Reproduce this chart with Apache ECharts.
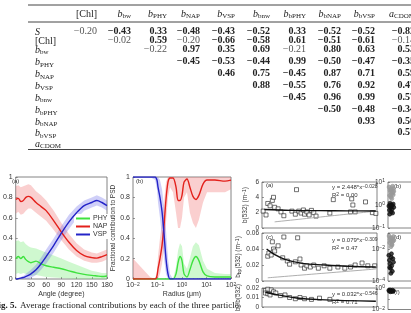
<!DOCTYPE html>
<html>
<head>
<meta charset="utf-8">
<script src="https://cdn.jsdelivr.net/npm/echarts@6/dist/echarts.min.js"></script>
<style>
  html, body { margin: 0; padding: 0; background: #fff; }
  #main { width: 411px; height: 313px; }
</style>
</head>
<body>
<div id="main"></div>
<script>
// ---- table (correlation coefficients) ----
const colLabels = ['[Chl]', 'b_bw', 'b_PHY', 'b_NAP', 'b_VSP', 'b_bnw', 'b_bPHY', 'b_bNAP', 'b_bVSP', 'a_CDOM'];
const rowLabels = ['S', '[Chl]', 'b_bw', 'b_PHY', 'b_NAP', 'b_VSP', 'b_bnw', 'b_bPHY', 'b_bNAP', 'b_bVSP', 'a_CDOM'];
// row i starts at column i (upper triangle)
const corrRows = [
  [-0.20, -0.43, 0.33, -0.48, -0.43, -0.52, 0.33, -0.52, -0.52, -0.82],
  [-0.02, 0.59, -0.20, -0.66, -0.58, 0.61, -0.51, -0.61, -0.14],
  [-0.22, 0.97, 0.35, 0.69, -0.21, 0.80, 0.63, 0.53],
  [-0.45, -0.53, -0.44, 0.99, -0.50, -0.47, -0.35],
  [0.46, 0.75, -0.45, 0.87, 0.71, 0.59],
  [0.88, -0.55, 0.76, 0.92, 0.47],
  [-0.45, 0.96, 0.99, 0.57],
  [-0.50, -0.48, -0.34],
  [0.93, 0.56],
  [0.57],
  []
];
const notSignificant = [[0, 0], [1, 0], [1, 2], [1, 8], [2, 0], [2, 4]];

// ---- fig 5 (a): contribution vs scattering angle ----
const angle = [0, 5, 10, 15, 20, 25, 30, 40, 50, 60, 75, 90, 105, 120, 135, 150, 160, 170, 180];
const napA   = [0.78, 0.79, 0.76, 0.77, 0.80, 0.81, 0.80, 0.75, 0.71, 0.67, 0.57, 0.46, 0.36, 0.28, 0.23, 0.21, 0.205, 0.22, 0.24];
const napALo = [0.64, 0.66, 0.63, 0.64, 0.67, 0.69, 0.69, 0.65, 0.61, 0.57, 0.48, 0.38, 0.29, 0.22, 0.18, 0.16, 0.16, 0.17, 0.19];
const napAHi = [0.91, 0.92, 0.90, 0.91, 0.92, 0.93, 0.92, 0.86, 0.82, 0.77, 0.67, 0.55, 0.44, 0.35, 0.29, 0.26, 0.25, 0.27, 0.29];
const vspA   = [0.0, 0.003, 0.008, 0.015, 0.025, 0.035, 0.05, 0.09, 0.15, 0.22, 0.33, 0.45, 0.56, 0.65, 0.72, 0.75, 0.77, 0.75, 0.72];
const vspALo = [0, 0, 0, 0, 0, 0, 0.01, 0.04, 0.09, 0.15, 0.26, 0.38, 0.49, 0.59, 0.67, 0.70, 0.72, 0.70, 0.67];
const vspAHi = [0.01, 0.01, 0.02, 0.03, 0.05, 0.07, 0.09, 0.14, 0.21, 0.29, 0.40, 0.52, 0.63, 0.71, 0.77, 0.80, 0.82, 0.80, 0.77];
const phyA   = [0.20, 0.22, 0.20, 0.22, 0.19, 0.17, 0.16, 0.175, 0.15, 0.13, 0.115, 0.10, 0.08, 0.06, 0.045, 0.035, 0.03, 0.025, 0.03];
const phyALo = [0.05, 0.06, 0.05, 0.06, 0.05, 0.04, 0.03, 0.04, 0.03, 0.02, 0.015, 0.01, 0.005, 0, 0, 0, 0, 0, 0];
const phyAHi = [0.37, 0.38, 0.36, 0.37, 0.34, 0.32, 0.31, 0.30, 0.28, 0.26, 0.23, 0.20, 0.17, 0.14, 0.11, 0.08, 0.07, 0.06, 0.06];

// ---- fig 5 (b): contribution vs radius (um) ----
const radius = [0.01, 0.05, 0.08, 0.095, 0.105, 0.126, 0.153, 0.184, 0.222, 0.268, 0.324, 0.43, 0.57, 0.69, 0.83, 1.0, 1.21, 1.6, 2.1, 2.8, 3.7, 4.9, 7.2, 10.5, 22, 57, 100];
const vspB   = [1, 1, 1, 0.97, 0.9, 0.8, 0.66, 0.45, 0.2, 0.05, 0, 0, 0, 0, 0, 0, 0, 0, 0, 0, 0, 0, 0, 0, 0, 0, 0];
const vspBLo = [1, 1, 0.97, 0.88, 0.75, 0.6, 0.42, 0.2, 0.05, 0, 0, 0, 0, 0, 0, 0, 0, 0, 0, 0, 0, 0, 0, 0, 0, 0, 0];
const vspBHi = [1, 1, 1, 1, 1, 0.97, 0.88, 0.72, 0.48, 0.2, 0.05, 0, 0, 0, 0, 0, 0, 0, 0, 0, 0, 0, 0, 0, 0, 0, 0];
const napB   = [0, 0, 0, 0.03, 0.1, 0.2, 0.33, 0.52, 0.78, 0.95, 0.99, 0.99, 0.9, 0.77, 0.77, 0.82, 0.95, 0.98, 0.9, 0.81, 0.78, 0.82, 0.93, 0.97, 0.97, 0.96, 0.97];
const napBLo = [0, 0, 0, 0, 0, 0.05, 0.15, 0.3, 0.55, 0.8, 0.9, 0.85, 0.65, 0.5, 0.5, 0.6, 0.8, 0.85, 0.65, 0.55, 0.5, 0.58, 0.75, 0.85, 0.85, 0.85, 0.88];
const napBHi = [0.2, 0.02, 0, 0.08, 0.22, 0.4, 0.55, 0.75, 0.95, 1, 1, 1, 1, 1, 1, 1, 1, 1, 1, 1, 1, 1, 1, 1, 1, 1, 1];
const phyB   = [0, 0, 0, 0, 0, 0, 0, 0, 0, 0, 0, 0, 0.05, 0.16, 0.22, 0.18, 0.05, 0.02, 0.09, 0.18, 0.22, 0.18, 0.07, 0.03, 0.02, 0.02, 0.02];
const phyBLo = [0, 0, 0, 0, 0, 0, 0, 0, 0, 0, 0, 0, 0, 0, 0, 0, 0, 0, 0, 0, 0, 0, 0, 0, 0, 0, 0];
const phyBHi = [0, 0, 0, 0, 0, 0, 0, 0, 0, 0, 0, 0, 0.12, 0.28, 0.35, 0.32, 0.15, 0.1, 0.2, 0.32, 0.36, 0.33, 0.18, 0.1, 0.06, 0.05, 0.05];

// ---- right figure: scatter panels ----
const scatA = [[1, 2.2], [3.5, 1.7], [5, 3.2], [7, 2.9], [9, 3.6], [10, 4.0], [11, 2.7], [14, 2.5], [16.5, 2.1], [19, 1.6],
  [26, 2.2], [29, 1.8], [30, 5.0], [32, 2.2], [34, 1.95], [36, 2.35], [37, 1.8], [39, 2.1], [41, 1.7], [43, 2.3],
  [45, 2.0], [47, 1.55], [59, 1.95], [62, 3.7], [77, 2.1], [81, 2.1], [78, 3.8], [79, 3.0], [90, 3.4], [96, 2.0], [99, 1.9]];
const fitA = [[2, 2.42], [25, 2.3], [50, 2.26], [75, 2.24], [99, 2.22]];
const refA = [[11, 0.8], [99, 2.2]];
const scatC = [[5, 0.031], [6, 0.035], [8, 0.0325], [9, 0.049], [10, 0.040], [11, 0.0375], [14, 0.044], [19, 0.055], [31, 0.054],
  [18, 0.029], [22, 0.025], [24, 0.021], [29, 0.024], [33, 0.0275], [34, 0.02], [37, 0.016], [39, 0.019], [42, 0.0175],
  [45, 0.02], [49, 0.016], [54, 0.019], [59, 0.016], [66, 0.0175], [72, 0.016], [77, 0.0175], [81, 0.02], [87, 0.0225],
  [92, 0.019], [98, 0.019]];
const fitC = [[4, 0.040], [10, 0.034], [20, 0.027], [35, 0.022], [55, 0.020], [75, 0.0185], [99, 0.0175]];
const refC = [[5, 0.004], [99, 0.015]];
const scatE = [[3, 0.0173], [5, 0.0187], [8, 0.018], [10, 0.016], [3, 0.0147], [5, 0.014], [7, 0.0127], [12, 0.0147],
  [16, 0.012], [20, 0.0127], [24, 0.010], [29, 0.0087], [33, 0.010], [37, 0.0087], [43, 0.008], [50, 0.0093], [59, 0.008]];
const fitE = [[3, 0.0155], [15, 0.0125], [30, 0.0095], [50, 0.0078], [99, 0.006]];
const grayB = [[4, 6.0], [7, 4.5], [9, 3.7], [11, 5.0], [12, 3.0], [14, 4.2], [16, 6.5], [17, 3.4], [19, 5.2], [6, 2.6], [10, 2.2], [13, 1.9], [18, 2.8], [20, 4.0]];
const blackB = [[3, 0.9], [5, 0.6], [7, 1.2], [9, 0.74], [11, 0.5], [12, 1.0], [14, 0.65], [16, 0.45], [18, 1.1], [20, 0.8], [6, 0.4], [10, 0.85], [15, 0.95], [8, 1.0]];
const grayD = [[4, 0.065], [7, 0.04], [9, 0.05], [11, 0.03], [13, 0.02], [15, 0.045], [17, 0.03], [19, 0.06], [6, 0.025], [10, 0.014], [14, 0.018], [20, 0.035]];
const blackD = [[3, 0.004], [5, 0.002], [7, 0.0012], [9, 0.0006], [11, 0.003], [13, 0.0009], [15, 0.0004], [17, 0.0025], [19, 0.0015], [6, 0.0007], [10, 0.0003], [12, 0.005]];
const blackF = [[3, 0.6], [5, 0.5], [7, 0.65], [9, 0.45], [11, 0.55], [13, 0.5], [15, 0.62], [17, 0.48], [19, 0.55]];

const serif = 'Liberation Serif';
const sans = 'Liberation Sans';
const ink = '#222';

function sym(lbl) {
  const m = lbl.match(/^([a-zA-Z])_(.+)$/);
  if (m) return '{i|' + m[1] + '}{s|' + m[2] + '}';
  if (lbl === 'S') return '{i|S}';
  return '{r|' + lbl + '}';
}
function fmt(v) {
  return v.toFixed(2).replace('-', '\u2212');
}
const tRich = {
  i: { fontFamily: serif, fontStyle: 'italic', fontSize: 10, lineHeight: 12 },
  s: { fontFamily: serif, fontSize: 7, lineHeight: 7, verticalAlign: 'bottom' },
  r: { fontFamily: serif, fontSize: 10, lineHeight: 12 },
  b: { fontFamily: serif, fontWeight: 'bold', fontSize: 10, lineHeight: 12 }
};
const capRich = {
  r: { fontFamily: serif, fontSize: 9, lineHeight: 11 },
  b: { fontFamily: serif, fontWeight: 'bold', fontSize: 9, lineHeight: 11 }
};
const supRich = {
  e: { fontSize: 5, lineHeight: 5, verticalAlign: 'top' },
  s: { fontSize: 5, lineHeight: 5, verticalAlign: 'bottom' }
};

// table layout
const colRight = [97, 131, 167, 200, 235, 270, 306, 341, 375, 415];
const rowY = [31, 40, 49, 61.5, 73.5, 85, 97, 109.5, 121, 132.5, 143];
const graphics = [];
[5, 22, 149.5].forEach(y => graphics.push({
  type: 'line', shape: { x1: 28, y1: y, x2: 411, y2: y }, style: { stroke: '#444', lineWidth: 1 }
}));
colLabels.forEach((c, j) => graphics.push({
  type: 'text', x: colRight[j], y: 14,
  style: { text: sym(c), rich: tRich, fill: ink, align: 'right', verticalAlign: 'middle' }
}));
rowLabels.forEach((r, i) => {
  graphics.push({
    type: 'text', x: 35, y: rowY[i] + 1,
    style: { text: sym(r), rich: tRich, fill: ink, align: 'left', verticalAlign: 'middle' }
  });
  corrRows[i].forEach((v, k) => {
    const plain = notSignificant.some(p => p[0] === i && p[1] === k);
    graphics.push({
      type: 'text', x: colRight[i + k], y: rowY[i],
      style: { text: '{' + (plain ? 'r' : 'b') + '|' + fmt(v) + '}', rich: tRich, fill: plain ? '#555' : ink, align: 'right', verticalAlign: 'middle' }
    });
  });
});
// caption
graphics.push({
  type: 'text', x: -7, y: 306,
  style: {
    text: '{b|Fig. 5.} {r|Average fractional contributions by each of the three particle}',
    rich: capRich, fill: ink, align: 'left', verticalAlign: 'middle'
  }
});
// panel letters
[['(a)', 12, 181], ['(b)', 136, 181], ['(a)', 266, 185], ['(c)', 266, 237], ['(e)', 266, 292], ['(b)', 394, 186], ['(d)', 394, 237], ['(f)', 394, 292]]
  .forEach(p => graphics.push({
    type: 'text', x: p[1], y: p[2],
    style: { text: p[0], fontFamily: sans, fontSize: 6, fill: '#333', align: 'left', verticalAlign: 'middle' }
  }));
// regression annotations
[['y = 2.448*x{e|\u22120.028}', 332, 187], ['R{e|2} = 0.00', 332, 195],
 ['y = 0.079*x{e|\u22120.309}', 332, 240], ['R{e|2} = 0.47', 332, 248],
 ['y = 0.032*x{e|\u22120.546}', 332, 294], ['R{e|2} = 0.71', 332, 302]]
  .forEach(p => graphics.push({
    type: 'text', x: p[1], y: p[2],
    style: { text: p[0], rich: supRich, fontFamily: sans, fontSize: 6, fill: '#333', align: 'left', verticalAlign: 'middle' }
  }));

// ---- axes ----
const gridBox = { show: true, borderColor: '#666', borderWidth: 0.8, backgroundColor: 'transparent' };
const grids = [
  { left: 9, top: 177, width: 98, height: 102 },
  { left: 133, top: 177, width: 98, height: 102 },
  { left: 262, top: 182, width: 115, height: 46 },
  { left: 262, top: 233, width: 115, height: 48 },
  { left: 262, top: 288, width: 115, height: 30 },
  { left: 388, top: 182, width: 115, height: 46 },
  { left: 388, top: 233, width: 115, height: 48 },
  { left: 388, top: 288, width: 115, height: 48 }
].map(g => Object.assign({}, gridBox, g));

const tick = { show: true, inside: true, length: 2, lineStyle: { color: '#555', width: 0.6 } };
const lbl = { fontFamily: sans, fontSize: 7, color: '#333', margin: 3 };
function pow10(v) {
  const e = Math.round(Math.log10(v));
  return '10{e|' + String(e).replace('-', '\u2212') + '}';
}
function evenPow(v) {
  const e = Math.round(Math.log10(v));
  return e % 2 === 0 ? pow10(v) : '';
}
function fracLbl(v) {
  if (v === 0) return '0';
  if (v === 1) return '1';
  return v.toFixed(1);
}
const hiddenX = i => ({
  gridIndex: i, type: 'value', min: 0, max: 100,
  axisLine: { show: false }, axisTick: { show: false }, axisLabel: { show: false }, splitLine: { show: false }
});

const xAxes = [
  {
    gridIndex: 0, type: 'value', min: 0, max: 180, interval: 30,
    axisLine: { show: false }, axisTick: tick, splitLine: { show: false },
    axisLabel: Object.assign({}, lbl, { formatter: v => (v === 0 ? '' : String(v)) }),
    name: 'Angle (degree)', nameLocation: 'middle', nameGap: 12,
    nameTextStyle: { fontFamily: sans, fontSize: 7, color: '#333' }
  },
  {
    gridIndex: 1, type: 'log', logBase: 10, min: 0.01, max: 100,
    axisLine: { show: false }, axisTick: tick, splitLine: { show: false },
    minorTick: { show: true, splitNumber: 9, length: 1, lineStyle: { color: '#777', width: 0.5 } },
    axisLabel: Object.assign({}, lbl, { formatter: pow10, rich: supRich }),
    name: 'Radius (\u03bcm)', nameLocation: 'middle', nameGap: 12,
    nameTextStyle: { fontFamily: sans, fontSize: 7, color: '#333' }
  },
  hiddenX(2), hiddenX(3), hiddenX(4), hiddenX(5), hiddenX(6), hiddenX(7)
];

const yName = (text, gap) => ({
  name: text, nameLocation: 'middle', nameGap: gap, nameRotate: 90,
  nameTextStyle: { fontFamily: sans, fontSize: 6.5, color: '#333', rich: supRich }
});
const yAxes = [
  {
    gridIndex: 0, type: 'value', min: 0, max: 1, interval: 0.2,
    axisLine: { show: false }, axisTick: tick, splitLine: { show: false },
    axisLabel: Object.assign({}, lbl, { formatter: fracLbl })
  },
  Object.assign({
    gridIndex: 1, type: 'value', min: 0, max: 1, interval: 0.2,
    axisLine: { show: false }, axisTick: tick, splitLine: { show: false },
    axisLabel: Object.assign({}, lbl, { formatter: fracLbl })
  }, yName('Fractional contribution to PSD', 12)),
  Object.assign({
    gridIndex: 2, type: 'value', min: 0, max: 6, interval: 2,
    axisLine: { show: false }, axisTick: tick, splitLine: { show: false },
    axisLabel: Object.assign({}, lbl, { fontSize: 6.5 })
  }, yName('b(532) (m{e|\u22121})', 13)),
  Object.assign({
    gridIndex: 3, type: 'value', min: 0, max: 0.06, interval: 0.02,
    axisLine: { show: false }, axisTick: tick, splitLine: { show: false },
    axisLabel: Object.assign({}, lbl, { fontSize: 6.5, formatter: v => (v === 0 ? '0' : v.toFixed(2)) })
  }, yName('b{s|bp}(532) (m{e|\u22121})', 20)),
  Object.assign({
    gridIndex: 4, type: 'value', min: 0, max: 0.02, interval: 0.01,
    axisLine: { show: false }, axisTick: tick, splitLine: { show: false },
    axisLabel: Object.assign({}, lbl, { fontSize: 6.5, formatter: v => (v === 0 ? '0' : v.toFixed(2)) })
  }, yName('b{s|b}/b(532)', 20)),
  {
    gridIndex: 5, type: 'log', logBase: 10, min: 0.1, max: 10,
    axisLine: { show: false }, axisTick: tick, splitLine: { show: false },
    axisLabel: Object.assign({}, lbl, { fontSize: 6.5, formatter: pow10, rich: supRich })
  },
  {
    gridIndex: 6, type: 'log', logBase: 10, min: 0.0001, max: 0.1,
    axisLine: { show: false }, axisTick: tick, splitLine: { show: false },
    axisLabel: Object.assign({}, lbl, { fontSize: 6.5, formatter: evenPow, rich: supRich })
  },
  {
    gridIndex: 7, type: 'log', logBase: 10, min: 0.01, max: 1,
    axisLine: { show: false }, axisTick: tick, splitLine: { show: false },
    axisLabel: Object.assign({}, lbl, { fontSize: 6.5, formatter: evenPow, rich: supRich })
  }
];

// ---- series ----
const RED = '#e3201b', BLUE = '#2424c8', GREEN = '#3ee23e';
const series = [];
// shaded spread: polygon along the upper bound and back along the lower bound
function band(idx, xs, lo, hi, fill) {
  series.push({
    type: 'custom', xAxisIndex: idx, yAxisIndex: idx, silent: true, clip: true, z: 1,
    data: [[xs[1], hi[1]]],
    renderItem: (params, api) => {
      const pts = [];
      xs.forEach((x, i) => pts.push(api.coord([x, hi[i]])));
      for (let i = xs.length - 1; i >= 0; i--) pts.push(api.coord([xs[i], lo[i]]));
      return { type: 'polygon', shape: { points: pts }, style: { fill: fill } };
    }
  });
}
function curve(idx, name, xs, ys, color) {
  series.push({
    name: name, type: 'line', xAxisIndex: idx, yAxisIndex: idx, z: 4,
    data: xs.map((x, i) => [x, ys[i]]), showSymbol: false, smooth: 0.3,
    lineStyle: { color: color, width: 1.4 }, itemStyle: { color: color }
  });
}
band(0, angle, phyALo, phyAHi, 'rgba(110,235,110,0.33)');
band(0, angle, napALo, napAHi, 'rgba(240,110,110,0.33)');
band(0, angle, vspALo, vspAHi, 'rgba(110,110,235,0.33)');
curve(0, 'PHY', angle, phyA, GREEN);
curve(0, 'NAP', angle, napA, RED);
curve(0, 'VSP', angle, vspA, BLUE);

band(1, radius, phyBLo, phyBHi, 'rgba(110,235,110,0.33)');
band(1, radius, napBLo, napBHi, 'rgba(240,110,110,0.33)');
band(1, radius, vspBLo, vspBHi, 'rgba(110,110,235,0.33)');
curve(1, 'PHY', radius, phyB, GREEN);
curve(1, 'NAP', radius, napB, RED);
curve(1, 'VSP', radius, vspB, BLUE);

function scat(idx, data, fill, stroke, shape) {
  series.push({
    type: 'scatter', xAxisIndex: idx, yAxisIndex: idx, data: data, symbol: shape, symbolSize: 4, z: 3,
    itemStyle: { color: fill, borderColor: stroke, borderWidth: 0.8 }
  });
}
function fit(idx, data, color, width) {
  series.push({
    type: 'line', xAxisIndex: idx, yAxisIndex: idx, data: data, showSymbol: false, smooth: 0.4, z: 4,
    lineStyle: { color: color, width: width }
  });
}
scat(2, scatA, '#fff', '#222', 'rect');
fit(2, refA, '#999', 0.8);
fit(2, fitA, '#111', 1.4);
scat(3, scatC, '#fff', '#222', 'rect');
fit(3, refC, '#999', 0.8);
fit(3, fitC, '#111', 1.4);
scat(4, scatE, '#fff', '#222', 'rect');
fit(4, fitE, '#111', 1.4);
scat(5, grayB, '#999', '#999', 'circle');
scat(5, blackB, '#111', '#111', 'circle');
scat(6, grayD, '#999', '#999', 'circle');
scat(6, blackD, '#111', '#111', 'circle');
scat(7, blackF, '#111', '#111', 'circle');

const chart = echarts.init(document.getElementById('main'), null, { renderer: 'canvas' });
chart.setOption({
  animation: false,
  textStyle: { fontFamily: sans },
  grid: grids,
  xAxis: xAxes,
  yAxis: yAxes,
  legend: {
    data: ['PHY', 'NAP', 'VSP'], orient: 'vertical', left: 74, top: 214, align: 'left',
    icon: 'rect', itemWidth: 14, itemHeight: 2, itemGap: 1,
    backgroundColor: '#fff', padding: [1, 2, 1, 2],
    textStyle: { fontFamily: sans, fontSize: 7, color: '#333', padding: [0, 0, 0, -2] }
  },
  graphic: graphics,
  series: series
});
</script>
</body>
</html>
